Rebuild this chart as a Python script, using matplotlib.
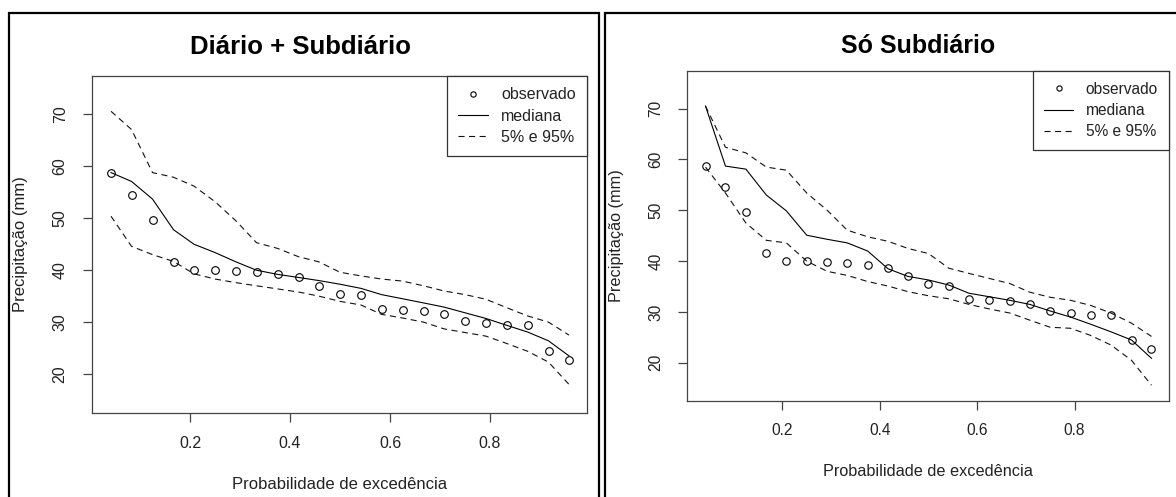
import matplotlib.pyplot as plt
from matplotlib.patches import Rectangle

plt.rcParams['font.family'] = ['Liberation Sans', 'DejaVu Sans']

W, H = 1176, 497

# probabilidade de excedencia (posicoes de plotagem)
prob = [0.042, 0.083, 0.125, 0.167, 0.208, 0.250, 0.292, 0.333, 0.375, 0.417, 0.458, 0.500,
        0.542, 0.583, 0.625, 0.667, 0.708, 0.750, 0.792, 0.833, 0.875, 0.917, 0.958]

observado = [58.8, 54.5, 49.6, 41.6, 40.0, 40.0, 39.8, 39.6, 39.3, 38.6, 37.0, 35.5,
             35.2, 32.5, 32.3, 32.1, 31.5, 30.2, 29.9, 29.4, 29.4, 24.4, 22.7]

# Diario + Subdiario
med_ds = [58.8, 57.1, 53.7, 47.8, 45.0, 43.4, 41.6, 40.0, 39.2, 38.6, 38.0, 37.3,
          36.5, 35.3, 34.5, 33.7, 32.9, 31.8, 30.7, 29.4, 28.1, 26.4, 23.5]
inf_ds = [50.4, 44.6, 43.0, 41.7, 39.3, 38.3, 37.6, 37.0, 36.4, 35.8, 35.0, 34.0,
          33.3, 31.5, 30.8, 30.0, 28.7, 28.0, 27.3, 25.9, 24.4, 22.3, 18.0]
sup_ds = [70.6, 67.1, 58.8, 57.9, 56.2, 53.2, 49.5, 45.3, 44.2, 42.6, 41.6, 39.6,
          38.9, 38.3, 37.9, 37.0, 36.0, 35.3, 34.4, 32.8, 31.2, 30.0, 27.5]

# So Subdiario
med_s = [70.5, 58.7, 58.1, 53.0, 49.9, 45.1, 44.3, 43.6, 42.0, 38.5, 37.0, 36.3,
         35.3, 33.7, 33.0, 32.3, 31.5, 30.2, 29.0, 27.6, 26.1, 24.5, 20.9]
inf_s = [58.5, 53.4, 47.5, 44.1, 43.6, 40.0, 38.0, 37.2, 36.0, 35.1, 34.0, 33.2,
         32.6, 31.5, 30.6, 29.8, 28.4, 27.0, 26.8, 25.4, 23.5, 20.5, 15.6]
sup_s = [70.5, 62.4, 61.3, 58.5, 57.9, 53.4, 50.0, 46.1, 44.8, 43.9, 42.5, 41.5,
         38.6, 37.6, 36.6, 35.6, 33.9, 32.9, 32.3, 31.3, 29.8, 27.8, 25.2]

yticks = [20, 30, 40, 50, 60, 70]
xticks = [0.2, 0.4, 0.6, 0.8]


def px_rect(left, top, right, bottom):
    return [left / W, 1 - bottom / H, (right - left) / W, (bottom - top) / H]


def draw_panel(ax, mediana, inf, sup, scale):
    fs = 11.5 * scale
    dash = (0, (5.5, 4))
    ax.plot(prob, observado, ls='none', marker='o', mfc='none', mec='black',
            ms=5.5 * scale, mew=0.8, label='observado')
    ax.plot(prob, mediana, color='black', lw=0.8, label='mediana')
    ax.plot(prob, sup, color='#111111', lw=0.8, ls=dash, label='5% e 95%')
    ax.plot(prob, inf, color='#111111', lw=0.8, ls=dash)

    ax.set_xlim(0.004, 0.994)
    ax.set_ylim(12.5, 77.4)
    ax.set_xticks(xticks)
    ax.set_xticklabels(['0.2', '0.4', '0.6', '0.8'])
    ax.set_yticks(yticks)
    for s in ax.spines.values():
        s.set_color('#444444')
        s.set_linewidth(0.9)
    ax.tick_params(axis='both', length=6.5 * scale, width=0.9, color='#444444',
                   labelsize=fs, labelcolor='#222222', pad=10 * scale)
    ax.tick_params(axis='y', labelrotation=90, pad=11 * scale)
    for lab in ax.get_yticklabels():
        lab.set_va('center')

    ax.set_xlabel('Probabilidade de excedência', fontsize=12 * scale,
                  color='#222222', labelpad=19 * scale)
    ax.set_ylabel('Precipitação (mm)', fontsize=12 * scale,
                  color='#222222', labelpad=18 * scale)

    leg = ax.legend(loc='upper right', borderaxespad=0, fancybox=False,
                    framealpha=1, edgecolor='#333333', fontsize=fs,
                    handlelength=1.9, handletextpad=0.8, borderpad=0.7,
                    labelspacing=0.4, markerscale=0.7)
    leg.get_frame().set_linewidth(0.9)
    for t in leg.get_texts():
        t.set_color('#222222')


fig = plt.figure(figsize=(W / 100, H / 100), dpi=100)

ax1 = fig.add_axes(px_rect(92, 76, 587, 413))
draw_panel(ax1, med_ds, inf_ds, sup_ds, 1.0)

ax2 = fig.add_axes(px_rect(687, 71, 1169, 401))
draw_panel(ax2, med_s, inf_s, sup_s, 0.975)

fig.text(301 / W, 1 - 47 / H, 'Diário + Subdiário', ha='center', va='center',
         fontsize=18.5, fontweight='bold')
fig.text(918 / W, 1 - 46 / H, 'Só Subdiário', ha='center', va='center',
         fontsize=18, fontweight='bold')

# molduras dos dois paineis
fig.add_artist(Rectangle((8.5 / W, -0.1), (599 - 8.5) / W, 1.1 - 13 / H,
                         transform=fig.transFigure, fill=False,
                         edgecolor='black', lw=1.6))
fig.add_artist(Rectangle((604.5 / W, -0.1), 0.6, 1.1 - 13 / H,
                         transform=fig.transFigure, fill=False,
                         edgecolor='black', lw=1.6))

fig.savefig('out.png', dpi=100)
